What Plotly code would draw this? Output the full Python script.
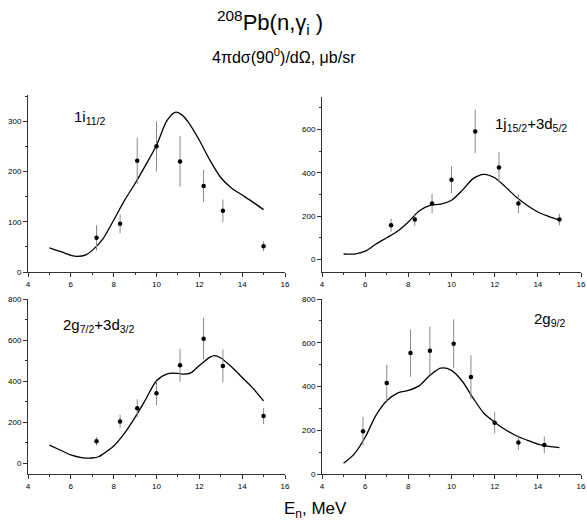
import plotly.graph_objects as go

W, H = 587, 524

# ---- data ----
# Panel 1: 1i11/2
p1_x = [7.2, 8.3, 9.1, 10.0, 11.1, 12.2, 13.1, 15.0]
p1_y = [68, 96, 221, 250, 220, 171, 122, 51]
p1_err = [25, 19, 46, 50, 50, 32, 22, 10]
c1_x = [5.0, 5.5, 6.0, 6.3, 6.7, 7.0, 7.5, 8.0, 8.5, 9.0, 9.5, 10.0, 10.5, 10.9, 11.2, 11.5, 12.0, 12.5, 13.0, 13.5, 14.0, 14.5, 15.0]
c1_y = [48, 41, 33, 31, 34, 43, 66, 103, 142, 176, 213, 252, 302, 318, 312, 297, 262, 222, 188, 167, 153, 139, 124]

# Panel 2: 1j15/2+3d5/2
p2_x = [7.2, 8.3, 9.1, 10.0, 11.1, 12.2, 13.1, 15.0]
p2_y = [158, 184, 258, 368, 591, 425, 258, 184]
p2_err = [30, 30, 45, 62, 100, 70, 45, 27]
c2_x = [5.0, 5.5, 6.0, 6.5, 7.0, 7.5, 8.0, 8.5, 9.0, 9.5, 10.0, 10.5, 11.0, 11.5, 12.0, 12.5, 13.0, 13.5, 14.0, 14.5, 15.0]
c2_y = [25, 25, 38, 71, 100, 130, 173, 224, 250, 255, 273, 319, 373, 393, 377, 335, 288, 250, 219, 199, 181]

# Panel 3: 2g7/2+3d3/2
p3_x = [7.2, 8.3, 9.1, 10.0, 11.1, 12.2, 13.1, 15.0]
p3_y = [107, 203, 268, 341, 477, 607, 474, 230]
p3_err = [21, 33, 44, 58, 80, 102, 80, 39]
c3_x = [5.0, 5.5, 6.0, 6.5, 7.0, 7.3, 7.5, 8.0, 8.5, 9.0, 9.5, 10.0, 10.5, 11.0, 11.3, 11.6, 12.0, 12.5, 12.7, 13.0, 13.5, 14.0, 14.5, 15.0]
c3_y = [89, 65, 41, 28, 26, 32, 45, 84, 146, 224, 312, 402, 436, 438, 434, 440, 476, 517, 524, 513, 470, 418, 366, 304]

# Panel 4: 2g9/2
p4_x = [5.9, 7.0, 8.1, 9.0, 10.1, 10.9, 12.0, 13.1, 14.3]
p4_y = [196, 416, 553, 563, 596, 443, 234, 144, 133]
p4_err = [65, 84, 108, 110, 111, 100, 49, 33, 38]
c4_x = [5.0, 5.5, 6.0, 6.5, 7.0, 7.5, 8.0, 8.5, 9.0, 9.5, 10.0, 10.5, 11.0, 11.5, 12.0, 12.5, 13.0, 13.5, 14.0, 14.5, 15.0]
c4_y = [49, 92, 168, 268, 335, 370, 382, 403, 451, 484, 474, 424, 347, 278, 237, 202, 175, 155, 137, 126, 121]

x_ticks = [4, 6, 8, 10, 12, 14, 16]

panels = [
    dict(px=p1_x, py=p1_y, pe=p1_err, cx=c1_x, cy=c1_y, yr=[0, 352], ydt=100,
         box=(28, 285, 95, 272)),
    dict(px=p2_x, py=p2_y, pe=p2_err, cx=c2_x, cy=c2_y, yr=[-58, 750], ydt=200,
         box=(322, 581, 97, 272)),
    dict(px=p3_x, py=p3_y, pe=p3_err, cx=c3_x, cy=c3_y, yr=[-52, 800], ydt=200,
         box=(28, 285, 299, 474)),
    dict(px=p4_x, py=p4_y, pe=p4_err, cx=c4_x, cy=c4_y, yr=[0, 800], ydt=200,
         box=(322, 581, 299, 474)),
]

FONT = "Liberation Sans, Arial, sans-serif"
AXC = "#333333"
fig = go.Figure()
layout = {}
for i, p in enumerate(panels, start=1):
    xa = "x" if i == 1 else f"x{i}"
    ya = "y" if i == 1 else f"y{i}"
    fig.add_trace(go.Scatter(x=p["cx"], y=p["cy"], mode="lines",
                             line=dict(color="black", width=1.3, shape="spline", smoothing=0.8),
                             xaxis=xa, yaxis=ya, showlegend=False, hoverinfo="skip"))
    fig.add_trace(go.Scatter(x=p["px"], y=p["py"], mode="markers",
                             marker=dict(color="black", size=4.5),
                             error_y=dict(type="data", array=p["pe"], visible=True,
                                          color="#8a8a8a", thickness=1, width=0),
                             xaxis=xa, yaxis=ya, showlegend=False))
    x0, x1, yt, yb = p["box"]
    xkey = "xaxis" if i == 1 else f"xaxis{i}"
    ykey = "yaxis" if i == 1 else f"yaxis{i}"
    layout[xkey] = dict(domain=[x0 / W, x1 / W], range=[4, 16], anchor=ya,
                        tickmode="array", tickvals=x_ticks, ticktext=[str(v) for v in x_ticks],
                        showline=True, linecolor=AXC, linewidth=1,
                        ticks="outside", ticklen=4, tickcolor=AXC, tickwidth=1,
                        minor=dict(dtick=1, ticks="outside", ticklen=2, tickcolor=AXC, showgrid=False),
                        showgrid=False, zeroline=False, ticklabeloverflow="allow",
                        tickfont=dict(size=8, family=FONT, color="black"))
    layout[ykey] = dict(domain=[1 - yb / H, 1 - yt / H], range=p["yr"], anchor=xa,
                        dtick=p["ydt"], tick0=0,
                        showline=True, linecolor=AXC, linewidth=1,
                        ticks="outside", ticklen=4, tickcolor=AXC, tickwidth=1,
                        minor=dict(dtick=p["ydt"] / 2, ticks="outside", ticklen=2, tickcolor=AXC, showgrid=False),
                        showgrid=False, zeroline=False, ticklabeloverflow="allow",
                        tickfont=dict(size=8, family=FONT, color="black"))

def ann(text, x, y, size, xanchor="center"):
    return dict(text=text, x=x / W, y=1 - y / H, xref="paper", yref="paper",
                xanchor=xanchor, yanchor="middle", showarrow=False,
                font=dict(size=size, family=FONT, color="black"))

annotations = [
    ann("<sup>208</sup>Pb(n,γ<sub>i</sub> )", 270, 23, 22),
    ann("4πdσ(90<sup>0</sup>)/dΩ, μb/sr", 284, 56, 16),
    ann("E<sub>n</sub>, MeV", 315, 510, 17),
    ann("1i<sub>11/2</sub>", 72, 117, 15, "left"),
    ann("1j<sub>15/2</sub>+3d<sub>5/2</sub>", 493, 124, 15, "left"),
    ann("2g<sub>7/2</sub>+3d<sub>3/2</sub>", 61, 325, 15, "left"),
    ann("2g<sub>9/2</sub>", 532, 319, 15, "left"),
]

fig.update_layout(width=W, height=H, margin=dict(l=0, r=0, t=0, b=0, autoexpand=False),
                  paper_bgcolor="white", plot_bgcolor="white",
                  annotations=annotations, **layout)
fig.write_html("out.html", config={"displayModeBar": False},
               post_script="document.body.style.margin='0';document.body.style.overflow='hidden';")
